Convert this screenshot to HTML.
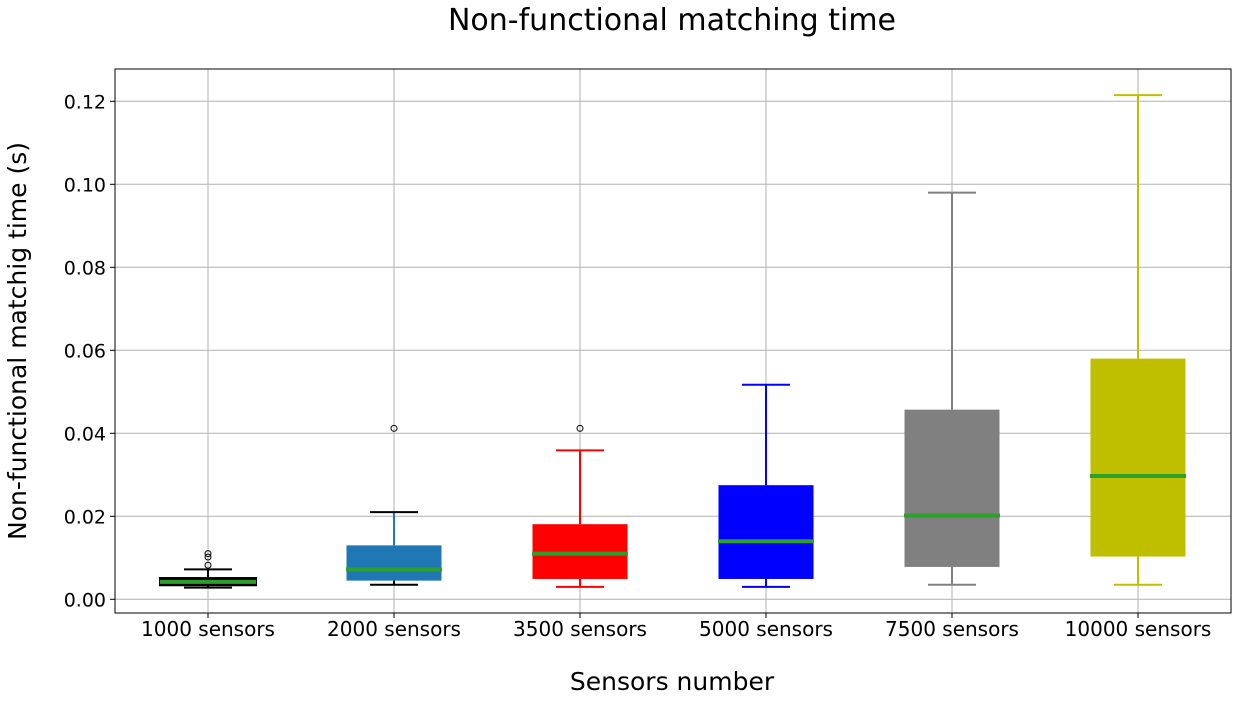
<!DOCTYPE html>
<html><head><meta charset="utf-8"><style>
body{margin:0;background:#fff;font-family:"DejaVu Sans","Liberation Sans",sans-serif}
</style></head><body>
<svg id="c" width="1241" height="702" xmlns="http://www.w3.org/2000/svg" font-family="DejaVu Sans, Liberation Sans, sans-serif">
<text x="672" y="30" font-size="30" text-anchor="middle">Non-functional matching time</text>
<text x="672" y="690" font-size="25" text-anchor="middle">Sensors number</text>
<text transform="translate(26,341) rotate(-90)" font-size="25" text-anchor="middle">Non-functional matchig time (s)</text>
<g id="grid"></g><g id="marks"></g>
<rect x="115" y="69" width="1116" height="544" fill="none" stroke="#000" stroke-width="1"/>
</svg>
<script>
const categories=["1000 sensors","2000 sensors","3500 sensors","5000 sensors","7500 sensors","10000 sensors"];
const whiskLow=[0.0028,0.0035,0.003,0.003,0.0035,0.0035];
const q1=[0.0035,0.0045,0.0049,0.0049,0.0078,0.0103];
const medians=[0.0042,0.0072,0.011,0.014,0.0202,0.0297];
const q3=[0.005,0.013,0.0181,0.0275,0.0457,0.058];
const whiskHigh=[0.0072,0.021,0.0359,0.0517,0.098,0.1215];
const fliers=[[0.0082,0.0102,0.011],[0.0412],[0.0412],[],[],[]];
const yTicks=[0,0.02,0.04,0.06,0.08,0.1,0.12];
const yTickLabels=["0.00","0.02","0.04","0.06","0.08","0.10","0.12"];
const colors=["#000","#1f77b4","#ff0000","#0000ff","#808080","#bfbf00"];
const ns="http://www.w3.org/2000/svg";
const y=v=>599.3-v*4150;
const x=i=>208+i*186;
function mk(t,a,p){const e=document.createElementNS(ns,t);for(const k in a)e.setAttribute(k,a[k]);p.appendChild(e);return e;}
const g=document.getElementById('grid'),m=document.getElementById('marks');
yTicks.forEach((v,i)=>{
 const l=mk('line',{x1:115,x2:1231,y1:y(v),y2:y(v),stroke:'#b0b0b0','stroke-width':1},g);
 
 
 mk('line',{x1:110,x2:115,y1:y(v),y2:y(v),stroke:'#000'},g);
 const t=mk('text',{x:106,y:y(v)+7,'font-size':19,'text-anchor':'end'},g);t.textContent=yTickLabels[i];
 
 
});
categories.forEach((c,i)=>{
 const cx=x(i),col=colors[i];
 const l=mk('line',{x1:cx,x2:cx,y1:69,y2:613,stroke:'#b0b0b0','stroke-width':1},g);
 
 
 mk('line',{x1:cx,x2:cx,y1:613,y2:618,stroke:'#000'},g);
 const t=mk('text',{x:cx,y:636,'font-size':20,'text-anchor':'middle'},g);t.textContent=c;
 
 
 const wc=i==0||i==1?'#000':col;
 const upc=i==1?'#1f77b4':wc;
 mk('line',{x1:cx,x2:cx,y1:y(q3[i]),y2:y(whiskHigh[i]),stroke:upc,'stroke-width':2},m);
 mk('line',{x1:cx,x2:cx,y1:y(q1[i]),y2:y(whiskLow[i]),stroke:wc,'stroke-width':2},m);
 mk('line',{x1:cx-24,x2:cx+24,y1:y(whiskHigh[i]),y2:y(whiskHigh[i]),stroke:wc,'stroke-width':2},m);
 mk('line',{x1:cx-24,x2:cx+24,y1:y(whiskLow[i]),y2:y(whiskLow[i]),stroke:wc,'stroke-width':2},m);
 const b=mk('rect',{x:cx-47.5,y:y(q3[i]),width:95,height:y(q1[i])-y(q3[i]),fill:col},m);
 if(i==0){b.setAttribute('stroke','#000');b.setAttribute('stroke-width',3);}
 
 
 const md=mk('line',{x1:cx-48,x2:cx+48,y1:y(medians[i]),y2:y(medians[i]),stroke:'#2ca02c','stroke-width':4},m);
 
 
 fliers[i].forEach(f=>{
  const o=mk('circle',{cx:cx,cy:y(f),r:3,fill:'none',stroke:'#000','stroke-width':1},m);
  
  
 });
});
</script>
</body></html>
